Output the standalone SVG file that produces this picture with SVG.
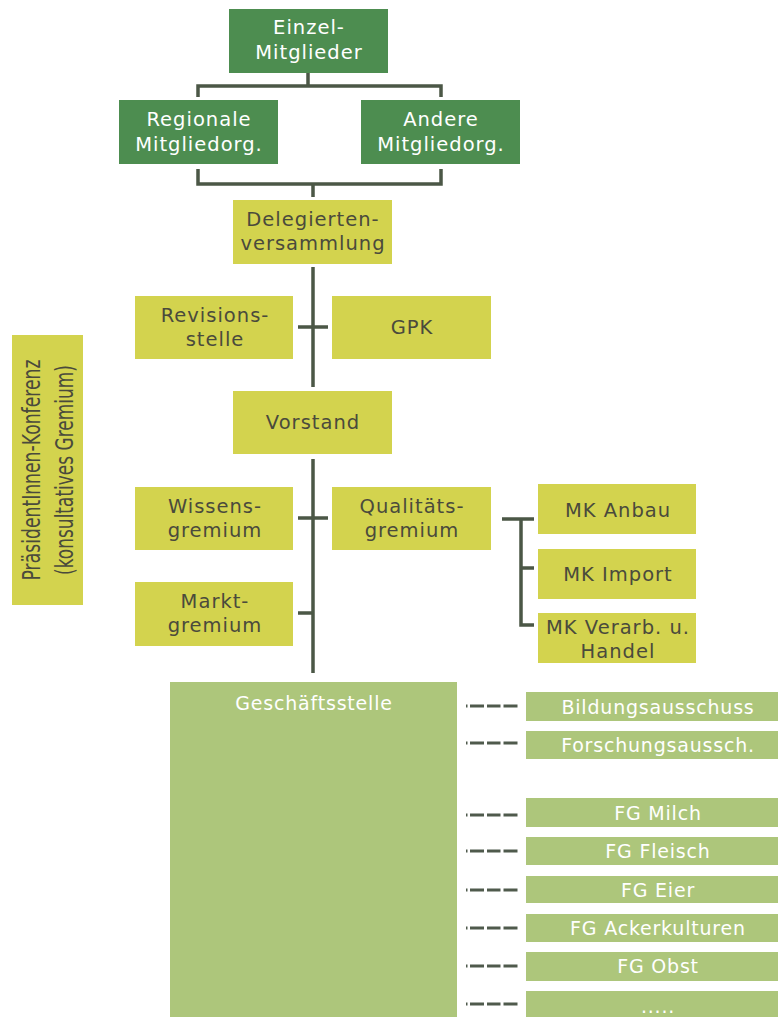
<svg xmlns="http://www.w3.org/2000/svg" width="778" height="1017" viewBox="0 0 778 1017">
<style>
.dg{fill:#4d8d50}
.yg{fill:#d3d34e}
.lg{fill:#adc67b}
.t{font-family:"DejaVu Sans","Liberation Sans",sans-serif;font-size:19.5px;text-anchor:middle;letter-spacing:1px}
.b{font-size:19px;letter-spacing:0.8px}
.w{fill:#ffffff}
.k{fill:#4a4a3c}
.ln{stroke:#4b5746;stroke-width:3.5;fill:none;stroke-linecap:butt}
.ds{stroke:#4f5a4c;stroke-width:3;fill:none;stroke-dasharray:1.5 2.5 14 3 13.5 3 14 20}
</style>
<g id="connectors">
<path class="ln" d="M308,73 V86 M198,97 V86 H441 V97"/>
<path class="ln" d="M198,169 V184 H441 V169 M313,184 V197"/>
<path class="ln" d="M313,267 V387 M298,327 H328"/>
<path class="ln" d="M313,459 V673 M298,518 H328 M298,613 H313"/>
<path class="ln" d="M502,519 H534 M521,519 V625 H534 M521,568 H534"/>
<path class="ds" d="M466,706 H518"/>
<path class="ds" d="M466,743 H518"/>
<path class="ds" d="M466,815 H518"/>
<path class="ds" d="M466,851 H518"/>
<path class="ds" d="M466,890 H518"/>
<path class="ds" d="M466,928 H518"/>
<path class="ds" d="M466,966 H518"/>
<path class="ds" d="M466,1004 H518"/>
</g>
<g id="einzel"><rect class="dg" x="229" y="9" width="159" height="64"/><text class="t w" x="309" y="34">Einzel-</text><text class="t w" x="309" y="59">Mitglieder</text></g>
<g id="regionale"><rect class="dg" x="119" y="100" width="159" height="64"/><text class="t w" x="199" y="126">Regionale</text><text class="t w" x="199" y="151">Mitgliedorg.</text></g>
<g id="andere"><rect class="dg" x="361" y="100" width="159" height="64"/><text class="t w" x="441" y="126">Andere</text><text class="t w" x="441" y="151">Mitgliedorg.</text></g>
<g id="delegierten"><rect class="yg" x="233" y="200" width="159" height="64"/><text class="t k" x="313" y="226">Delegierten-</text><text class="t k" x="313" y="250">versammlung</text></g>
<g id="revision"><rect class="yg" x="135" y="296" width="158" height="63"/><text class="t k" x="215" y="322">Revisions-</text><text class="t k" x="215" y="346">stelle</text></g>
<g id="gpk"><rect class="yg" x="332" y="296" width="159" height="63"/><text class="t k" x="412" y="334">GPK</text></g>
<g id="praesident"><rect class="yg" x="12" y="335" width="71" height="270"/>
<text class="t k" style="font-size:24px;letter-spacing:0" transform="translate(40,470) rotate(-90)" x="0" y="0" textLength="221" lengthAdjust="spacingAndGlyphs">PräsidentInnen-Konferenz</text>
<text class="t k" style="font-size:24px;letter-spacing:0" transform="translate(73,470) rotate(-90)" x="0" y="0" textLength="210" lengthAdjust="spacingAndGlyphs">(konsultatives Gremium)</text></g>
<g id="vorstand"><rect class="yg" x="233" y="391" width="159" height="63"/><text class="t k" x="313" y="429">Vorstand</text></g>
<g id="wissen"><rect class="yg" x="135" y="487" width="158" height="63"/><text class="t k" x="215" y="513">Wissens-</text><text class="t k" x="215" y="537">gremium</text></g>
<g id="qualitaet"><rect class="yg" x="332" y="487" width="159" height="63"/><text class="t k" x="412" y="513">Qualitäts-</text><text class="t k" x="412" y="537">gremium</text></g>
<g id="markt"><rect class="yg" x="135" y="582" width="158" height="64"/><text class="t k" x="215" y="608">Markt-</text><text class="t k" x="215" y="632">gremium</text></g>
<g id="mk-anbau"><rect class="yg" x="538" y="484" width="158" height="50"/><text class="t k" x="618" y="517">MK Anbau</text></g>
<g id="mk-import"><rect class="yg" x="538" y="549" width="158" height="50"/><text class="t k" x="618" y="581">MK Import</text></g>
<g id="mk-verarb"><rect class="yg" x="538" y="613" width="158" height="50"/><text class="t k" x="618" y="634">MK Verarb. u.</text><text class="t k" x="618" y="658">Handel</text></g>
<g id="geschaeftsstelle"><rect class="lg" x="170" y="682" width="287" height="340"/><text class="t b w" x="314" y="710">Geschäftsstelle</text></g>
<g id="bildung"><rect class="lg" x="526" y="692" width="264" height="29"/><text class="t b w" x="658" y="714">Bildungsausschuss</text></g>
<g id="forschung"><rect class="lg" x="526" y="731" width="264" height="28"/><text class="t b w" x="658" y="752">Forschungsaussch.</text></g>
<g id="fg-milch"><rect class="lg" x="526" y="798" width="264" height="29"/><text class="t b w" x="658" y="820">FG Milch</text></g>
<g id="fg-fleisch"><rect class="lg" x="526" y="837" width="264" height="28"/><text class="t b w" x="658" y="858">FG Fleisch</text></g>
<g id="fg-eier"><rect class="lg" x="526" y="876" width="264" height="27"/><text class="t b w" x="658" y="897">FG Eier</text></g>
<g id="fg-acker"><rect class="lg" x="526" y="914" width="264" height="28"/><text class="t b w" x="658" y="935">FG Ackerkulturen</text></g>
<g id="fg-obst"><rect class="lg" x="526" y="952" width="264" height="29"/><text class="t b w" x="658" y="973">FG Obst</text></g>
<g id="fg-more"><rect class="lg" x="526" y="991" width="264" height="30"/><text class="t b w" x="658" y="1013">.....</text></g>
</svg>
